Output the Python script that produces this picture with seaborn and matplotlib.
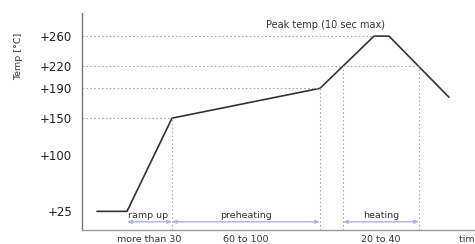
import matplotlib
matplotlib.use("Agg")
import matplotlib.pyplot as plt
import seaborn as sns
import pandas as pd

# profile (time in arbitrary seconds-scale units, temperature in °C)
time_pts = [0, 30, 75, 223, 277, 292, 352]
temp_pts = [25, 25, 150, 190, 260, 260, 178]

ytick_vals = [25, 100, 150, 190, 220, 260]
ytick_labels = ["+25", "+100", "+150", "+190", "+220", "+260"]

# reference guide lines
hline_temps = [260, 220, 190, 150]
hline_ends = [277, 322, 223, 75]
vline_times = [75, 223, 246, 322]
vline_tops = [150, 190, 220, 220]

phase_names = ["ramp up", "preheating", "heating"]
phase_start = [30, 75, 246]
phase_end = [75, 223, 322]
phase_durations = ["more than 30", "60 to 100", "20 to 40"]

sns.set_style("white")
plt.rcParams['font.family'] = ['DejaVu Sans']

fig = plt.figure(figsize=(4.75, 2.44), dpi=100)
ax = fig.add_axes([82/475, 14/244, 1 - 82/475, (230 - 13)/244])

df = pd.DataFrame({"time": time_pts, "temp": temp_pts})
sns.lineplot(data=df, x="time", y="temp", ax=ax, color="#333333", linewidth=1.2, sort=False)

for t, xe in zip(hline_temps, hline_ends):
    ax.plot([-15, xe], [t, t], color="#aaaaaa", linestyle=(0, (1.5, 2)), linewidth=0.8)
for x, yt in zip(vline_times, vline_tops):
    ax.plot([x, x], [0, yt], color="#aaaaaa", linestyle=(0, (1.5, 2)), linewidth=0.8)

arrow_y = 11
for name, s, e, dur in zip(phase_names, phase_start, phase_end, phase_durations):
    ax.annotate("", xy=(e, arrow_y), xytext=(s, arrow_y),
                arrowprops=dict(arrowstyle="<->,head_length=0.25,head_width=0.1",
                                color="#b0b0e6", lw=1.0, shrinkA=0, shrinkB=0))
    if name == "ramp up":
        ax.text(s + 1, arrow_y + 3, name, ha="left", va="bottom", fontsize=6.8, color="#333333")
    else:
        ax.text((s + e) / 2, arrow_y + 3, name, ha="center", va="bottom", fontsize=6.8, color="#333333")
    ax.text((s + e) / 2, -7, dur, ha="center", va="top", fontsize=6.8, color="#333333", clip_on=False)

ax.text(229, 275, "Peak temp (10 sec max)", ha="center", va="center", fontsize=7, color="#333333")
ax.text(362, -7, "time (sec)", ha="left", va="top", fontsize=6.8, color="#333333", clip_on=False)

ax.set_xlim(-15, 378)
ax.set_ylim(0, 291)
ax.set_yticks(ytick_vals)
ax.set_yticklabels(ytick_labels, fontsize=8.5, color="#222222")
ax.set_xticks([])
ax.tick_params(axis="y", length=2, width=0.6, color="#aaaaaa", pad=5)
ax.set_xlabel("")
ax.set_ylabel("Temp [°C]", fontsize=6.8, color="#333333")
ax.yaxis.set_label_coords(-0.15, 0.8)

for side in ["top", "right"]:
    ax.spines[side].set_visible(False)
ax.spines["left"].set_color("#777777")
ax.spines["bottom"].set_color("#999999")
ax.spines["left"].set_linewidth(1.0)
ax.spines["bottom"].set_linewidth(1.0)

fig.savefig("out.png", dpi=100)
